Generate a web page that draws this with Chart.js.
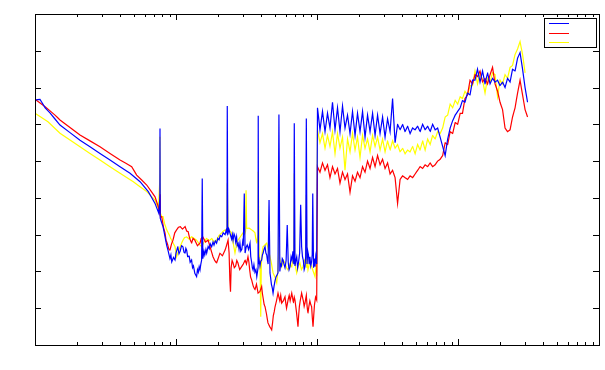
<!DOCTYPE html>
<html>
<head>
<meta charset="utf-8">
<script src="https://cdn.jsdelivr.net/npm/chart.js@4/dist/chart.umd.min.js"></script>
<style>
  body { margin: 0; background: #fff; }
</style>
</head>
<body>
<canvas id="my-chart" width="605" height="370"></canvas>
<script>
// low band (below ~100), [freq, level] pairs per series
const blueLow = [[1.00,66.6],[1.085,66.8],[1.18,64.5],[1.277,63.1],[1.504,59.8],[2.085,55.7],[2.89,52.1],[4.01,48.5],[4.72,46.7],[5.56,44.4],
  [6.36,41.7],[7.10,38.5],[7.55,35.8],[7.68,40.0],[7.70,58.9],[7.73,34.5],
  [7.92,33.2],[8.09,32.2],[8.36,29.4],[8.6,27.0],[8.77,25.8],[9.06,23.5],[9.2,24.5],[9.33,22.6],[9.6,23.8],[9.84,23.1],
  [10.0,25.0],[10.3,26.7],[10.5,24.8],[10.7,25.5],[10.95,27.0],[11.2,26.7],[11.4,25.2],[11.6,25.0],[11.75,26.3],[11.9,25.8],
  [12.1,24.0],[12.4,24.2],[12.6,22.5],[12.9,23.1],[13.1,21.0],[13.3,21.5],[13.6,19.5],[14.0,18.6],[14.2,20.5],[14.4,19.8],
  [14.6,21.3],[14.8,20.4],[15.0,22.0],[15.2,23.1],[15.35,45.3],[15.5,23.5],[15.8,25.5],[16.0,24.5],[16.3,26.0],[16.5,25.0],
  [16.9,26.8],[17.2,26.2],[17.5,27.5],[17.9,26.7],[18.3,28.0],[18.6,27.2],[19.0,28.3],[19.4,27.7],[19.8,29.0],[20.2,28.6],
  [20.6,29.8],[21.1,29.4],[21.6,30.5],[22.3,30.0],[22.7,31.2],[23.0,30.5],[23.1,65.0],[23.3,30.0],[23.7,31.5],[24.1,30.5],
  [24.5,29.5],[24.8,28.8],[25.1,30.0],[25.4,28.5],[25.8,30.2],[26.2,29.5],[26.5,28.0],[26.9,29.4],[27.2,27.0],[27.6,27.6],
  [28.0,26.0],[28.4,27.7],[28.8,25.5],[29.3,26.0],[29.7,28.0],[30.0,27.0],[30.5,41.2],[30.9,25.0],[31.4,26.5],[32.0,27.2],
  [32.7,26.0],[33.5,27.7],[33.9,24.0],[34.4,22.5],[34.8,21.0],[35.2,20.4],[35.7,21.8],[36.3,19.8],[36.9,20.5],[37.4,18.6],
  [37.8,19.8],[38.2,21.0],[38.3,62.3],[38.5,22.0],[38.9,23.0],[39.4,21.5],[39.9,22.8],[40.5,23.1],[41.0,24.5],[41.5,25.0],
  [42.1,26.0],[42.8,26.7],[43.4,25.0],[44.0,24.5],[44.5,23.0],[45.0,22.0],[45.7,39.4],[46.4,19.6],[47.0,18.0],[47.5,16.5],
  [48.2,15.5],[48.8,14.1],[49.6,16.0],[50.4,17.5],[51.2,18.5],[52.0,19.0],[52.9,19.6],[53.7,62.7],[54.5,20.0],[55.2,22.0],
  [56.0,21.5],[56.7,23.5],[57.4,23.1],[58.3,22.0],[59.3,21.0],[60.4,23.0],[61.5,32.6],[62.5,22.5],[63.4,20.5],[64.4,21.3],
  [65.5,24.0],[66.5,23.0],[67.5,25.5],[68.5,22.0],[69.0,60.3],[69.8,21.5],[70.8,23.0],[71.8,24.0],[72.9,21.0],[74.0,22.5],
  [75.3,25.0],[76.6,38.1],[77.8,26.7],[78.9,24.0],[80.0,23.0],[81.1,20.5],[82.2,21.3],[83.1,24.0],[84.0,61.6],[85.0,22.0],
  [86.0,25.5],[87.0,24.5],[88.0,22.0],[89.1,24.0],[90.3,21.5],[91.5,22.5],[92.5,24.5],[93.3,41.2],[94.5,21.0],[95.6,23.5],
  [96.8,21.3],[98.0,24.0],[99.5,22.0]];

const redLow = [[1.00,66.8],[1.18,64.8],[1.386,62.5],[1.504,61.2],[2.085,57.1],[2.89,53.9],[4.01,50.3],[4.85,48.5],[5.26,46.2],[6.20,43.5],
  [7.10,40.3],[7.49,37.6],[7.70,35.5],[7.72,41.0],[7.75,34.8],[7.92,34.9],[8.15,32.0],[8.36,30.5],[8.5,28.5],[8.7,27.5],
  [8.9,26.0],[9.06,25.8],[9.3,27.5],[9.52,28.5],[9.8,30.5],[10.1,31.3],[10.4,32.0],[10.7,32.2],[11.1,31.5],[11.6,32.2],
  [11.9,31.0],[12.2,30.8],[12.5,29.0],[12.9,27.7],[13.2,29.0],[13.6,28.5],[14.2,27.0],[14.8,27.7],[15.1,29.0],[15.5,29.4],
  [16.2,28.0],[16.9,28.5],[17.5,26.5],[18.3,24.0],[18.8,23.0],[19.4,22.3],[19.9,23.5],[20.5,25.0],[21.3,24.2],[22.3,25.8],
  [22.8,27.0],[23.4,28.5],[23.8,25.0],[24.1,17.7],[24.35,14.5],[24.6,21.0],[25.0,23.0],[25.4,22.3],[25.9,21.0],[26.5,21.5],
  [27.0,23.0],[27.5,22.3],[28.3,20.5],[29.2,21.3],[30.0,22.0],[30.9,23.1],[31.6,22.0],[32.4,24.0],[32.9,22.5],[33.3,20.5],
  [33.8,18.5],[34.4,17.7],[35.3,16.0],[36.3,15.0],[37.2,16.5],[38.2,14.1],[39.3,14.5],[40.5,15.9],[41.0,14.0],[41.6,12.5],
  [42.2,11.0],[42.8,10.4],[43.8,8.5],[44.9,6.0],[46.2,5.0],[47.7,4.1],[48.4,6.0],[49.0,8.0],[49.7,9.0],[50.4,10.4],
  [51.6,12.0],[52.9,14.1],[53.7,13.0],[54.5,12.0],[55.3,13.5],[56.2,11.4],[57.7,12.0],[59.3,13.1],[60.0,11.5],[60.8,10.0],
  [61.5,11.0],[62.3,12.2],[63.5,13.5],[64.5,12.0],[66.2,14.1],[67.0,13.0],[68.0,11.5],[69.0,13.0],[69.8,12.2],[70.7,10.5],
  [71.5,9.0],[72.4,7.0],[73.3,5.0],[74.1,8.0],[75.0,10.5],[76.4,12.5],[77.8,14.1],[78.9,13.0],[80.0,12.0],[81.1,10.5],
  [82.2,11.4],[83.1,12.5],[84.0,13.5],[85.1,10.5],[86.3,8.7],[87.6,10.5],[89.0,12.0],[90.3,11.0],[91.6,10.4],[92.6,7.5],
  [93.7,5.0],[94.8,8.0],[96.0,11.0],[97.7,13.0],[99.5,12.2]];

const yellowLow = [[1.00,63.0],[1.236,60.7],[1.504,57.6],[2.085,53.9],[2.89,50.3],[4.01,46.7],[4.98,44.4],[6.20,41.7],[7.10,39.4],[7.50,37.0],
  [7.68,45.0],[7.70,56.6],[7.73,36.0],[7.92,34.9],[8.09,34.9],[8.3,33.0],[8.59,31.3],[8.8,30.5],[9.0,29.8],[9.15,29.0],
  [9.33,28.5],[9.6,27.5],[9.84,26.7],[10.1,24.0],[10.4,25.5],[10.7,26.7],[10.9,27.5],[11.2,28.5],[11.5,29.2],[11.9,29.4],
  [12.4,28.8],[12.9,29.4],[13.4,29.0],[14.0,28.5],[14.6,27.5],[15.2,26.7],[15.8,28.0],[16.5,29.0],[17.2,28.3],[17.9,29.0],
  [18.6,28.0],[19.4,28.5],[20.2,29.8],[21.1,30.5],[21.7,31.0],[22.3,31.3],[23.0,31.0],[23.1,44.0],[23.4,31.7],[24.1,31.0],
  [24.8,30.5],[25.5,27.5],[26.2,25.0],[26.8,27.0],[27.5,28.5],[28.7,29.5],[29.9,30.5],[30.6,30.0],[31.2,31.0],[31.4,42.1],
  [31.7,31.7],[33.0,31.8],[34.4,31.3],[35.3,31.0],[36.3,30.5],[36.8,29.0],[37.4,27.7],[37.8,29.0],[38.2,28.0],[38.3,47.1],
  [38.8,25.0],[39.4,23.1],[39.9,7.7],[40.3,22.0],[40.8,25.0],[41.4,26.7],[42.7,27.2],[44.0,27.7],[45.2,26.0],[46.4,24.0],
  [47.6,22.0],[48.8,19.6],[50.3,18.5],[51.8,16.9],[52.7,20.0],[53.5,25.0],[53.7,40.8],[54.0,24.0],[55.1,22.5],[56.2,21.3],
  [57.7,23.0],[59.3,22.3],[60.8,21.0],[62.3,20.4],[64.2,22.0],[66.2,21.3],[67.3,23.0],[68.5,22.5],[69.0,46.7],[69.5,23.0],
  [70.6,21.0],[71.8,19.6],[73.7,21.5],[75.7,22.3],[77.5,20.5],[79.5,21.3],[81.5,23.0],[83.5,22.0],[84.0,40.8],[84.5,21.0],
  [85.4,22.0],[86.3,20.4],[88.9,22.5],[91.6,21.3],[94.1,20.0],[96.8,18.6],[98.2,21.0],[99.5,20.0]];

// upper band, shared frequencies
const hiFreq = [100.8,105.0,109.4,114.0,118.7,123.6,128.8,134.2,139.8,145.6,
  151.7,158.0,164.6,171.5,178.6,186.1,193.8,201.9,210.4,219.1,
  228.3,237.8,247.8,258.1,268.9,280.1,291.8,303.9,316.6,329.8,
  343.6,357.9,372.8,388.4,404.6,421.5,439.1,457.4,476.5,496.4,
  517.1,538.7,561.2,584.6,609.0,634.4,660.9,688.5,717.2,747.1,
  778.3,810.8,844.6,879.9,916.6,954.9,994.7,1036,1076,1121,
  1168,1217,1268,1320,1375,1433,1493,1555,1620,1688,
  1758,1831,1908,1987,2070,2156,2246,2340,2437,2539,
  2645,2755,2870,2990,3114];

const blueHi = [64.5,58.5,63.5,58.0,63.0,59.0,66.0,58.5,64.5,58.0,
  65.0,59.0,62.5,57.5,63.5,57.0,63.0,58.0,63.5,56.5,
  62.5,58.0,63.0,57.0,62.5,57.5,62.0,56.5,61.5,58.0,
  67.0,55.0,60.0,58.5,60.0,58.0,59.5,57.5,59.0,58.5,
  59.5,58.0,60.0,58.5,59.5,58.0,60.0,58.5,59.0,56.5,
  54.0,51.5,56.0,59.0,61.0,62.5,63.5,64.5,66.5,66.0,
  68.5,68.0,72.0,72.0,75.0,71.5,74.5,71.0,74.0,71.0,
  72.5,71.5,72.0,70.5,71.5,70.0,72.5,71.5,75.0,74.5,
  78.0,79.5,75.0,70.0,66.0];

const redHi = [48.5,47.0,49.5,47.5,49.0,45.5,48.5,46.5,48.0,44.0,
  47.0,45.0,46.5,41.5,46.0,44.5,47.0,45.5,48.5,47.0,
  50.0,48.0,51.0,48.5,51.5,49.0,50.5,48.0,49.5,46.5,
  47.5,45.5,38.5,45.0,46.0,45.5,45.0,46.0,45.5,46.5,
  47.5,48.5,48.0,49.0,48.5,49.5,48.5,49.0,50.0,50.5,
  51.5,55.0,54.5,58.0,57.5,60.5,60.0,63.0,63.0,67.0,
  68.0,72.0,71.0,73.5,73.0,74.5,71.5,72.5,71.0,73.5,
  75.5,71.0,69.0,66.0,64.0,59.0,58.0,58.5,62.0,64.5,
  68.5,72.0,68.0,64.0,62.0];

const yellowHi = [58.5,55.0,57.5,53.5,57.0,54.0,58.0,52.0,57.5,53.5,
  56.5,47.5,56.0,52.5,57.5,53.0,56.5,51.0,57.0,53.5,
  56.0,52.5,57.0,54.0,56.5,53.0,56.0,52.5,55.5,53.0,
  55.5,53.5,54.5,52.5,53.5,52.0,53.0,52.5,54.0,52.0,
  54.5,53.0,55.5,53.0,56.0,54.5,57.0,56.0,58.0,57.5,
  59.0,62.0,62.5,65.5,64.5,66.5,65.5,67.5,67.0,69.0,
  68.0,70.5,70.5,74.5,71.0,74.0,72.0,68.5,72.5,71.5,
  74.0,73.5,67.5,72.0,71.0,73.5,72.5,75.5,76.0,79.0,
  80.5,82.5,79.0,74.0,null];

const seriesColors = ['#0000ff', '#ff0000', '#ffff00'];

function toPoints(low, hi) {
    let pts = low.map(p => ({ x: p[0], y: p[1] }));
    for (let i = 0; i < hiFreq.length; i++) {
        if (hi[i] !== null) pts.push({ x: hiFreq[i], y: hi[i] });
    }
    return pts;
}

// gnuplot style frame, inward ticks and the empty key box
const framePlugin = {
    id: 'frame',
    afterDatasetsDraw(chart) {
        let c = chart.ctx;
        let xs = chart.scales.x, ys = chart.scales.y;
        let a = chart.chartArea;
        c.save();
        c.strokeStyle = '#000';
        c.lineWidth = 1;
        c.beginPath();
        for (let d = 1; d <= 10000; d *= 10) {
            for (let k = 1; k <= 9; k++) {
                let v = d * k;
                if (v > 10000) break;
                let px = Math.round(xs.getPixelForValue(v)) + 0.5;
                let len = k === 1 ? 6 : 3;
                c.moveTo(px, a.bottom); c.lineTo(px, a.bottom - len);
                c.moveTo(px, a.top); c.lineTo(px, a.top + len);
            }
        }
        for (let v = 10; v < 90; v += 10) {
            let py = Math.round(ys.getPixelForValue(v)) + 0.5;
            c.moveTo(a.left, py); c.lineTo(a.left + 6, py);
            c.moveTo(a.right, py); c.lineTo(a.right - 6, py);
        }
        c.stroke();
        c.strokeRect(a.left + 0.5, a.top + 0.5, a.right - a.left, a.bottom - a.top);

        // key
        c.strokeRect(544.5, 18.5, 52, 29);
        let rows = [23.5, 33.5, 42.5];
        chart.data.datasets.forEach(function(ds, i) {
            c.strokeStyle = ds.borderColor;
            c.beginPath();
            c.moveTo(549, rows[i]); c.lineTo(569, rows[i]);
            c.stroke();
        });
        c.restore();
    }
};

let ctx = document.getElementById('my-chart').getContext('2d');

let myChart = new Chart(ctx, {
    type: 'line',
    data: {
        datasets: [
            { label: '', data: toPoints(blueLow, blueHi), borderColor: seriesColors[0] },
            { label: '', data: toPoints(redLow, redHi), borderColor: seriesColors[1] },
            { label: '', data: toPoints(yellowLow, yellowHi), borderColor: seriesColors[2] }
        ]
    },
    options: {
        responsive: false,
        animation: false,
        events: [],
        datasets: { line: { borderWidth: 1.2, pointRadius: 0, tension: 0.0001, fill: false } },
        layout: { padding: { left: 35, top: 14, right: 6, bottom: 25 } },
        plugins: { legend: { display: false }, tooltip: { enabled: false } },
        scales: {
            x: { type: 'logarithmic', min: 1, max: 10000, display: false },
            y: { type: 'linear', min: 0, max: 90, display: false }
        }
    },
    plugins: [framePlugin]
});
</script>
</body>
</html>
